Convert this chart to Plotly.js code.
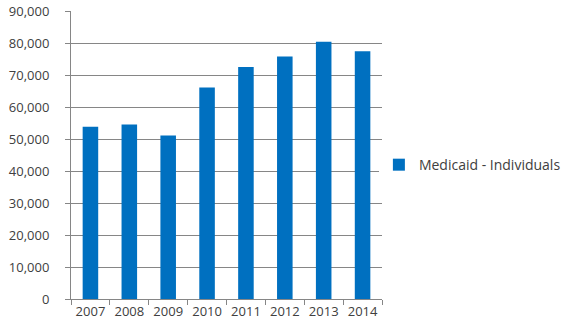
<!DOCTYPE html>
<html>
<head>
<meta charset="utf-8">
<script src="https://cdn.plot.ly/plotly-3.0.1.min.js"></script>
<style>html,body{margin:0;padding:0;background:#fff;}#chart{width:561px;height:333px;}</style>
</head>
<body>
<div id="chart"></div>
<script>
const years = ["2007","2008","2009","2010","2011","2012","2013","2014"];
const medicaidIndividuals = [53800, 54500, 51100, 66100, 72500, 75800, 80400, 77400];
const seriesName = "Medicaid - Individuals";
const yTicks = [0,10000,20000,30000,40000,50000,60000,70000,80000,90000];

const font = {family: "Open Sans, Noto Sans, sans-serif", size: 13, color: "#404040"};
const legendFont = {family: "Open Sans, Noto Sans, sans-serif", size: 14, color: "#404040"};

Plotly.newPlot("chart", [{
  type: "bar",
  x: years,
  y: medicaidIndividuals,
  name: seriesName,
  marker: {color: "#0070C0"},
  showlegend: true
}], {
  width: 561, height: 333,
  margin: {l: 71, r: 179, t: 11, b: 34, pad: 0, autoexpand: false},
  paper_bgcolor: "#fff", plot_bgcolor: "#fff",
  font: font,
  bargap: 0.6,
  showlegend: true,
  legend: {x: 0.99, xanchor: "left", y: 0.465, yanchor: "middle", font: legendFont, itemwidth: 30},
  xaxis: {
    type: "category",
    showline: true, linecolor: "#868686", linewidth: 1,
    ticks: "outside", tickson: "boundaries", ticklen: 5, tickcolor: "#868686",
    showgrid: false, tickfont: font, tickangle: 0
  },
  yaxis: {
    range: [0, 90000], tickvals: yTicks, tickformat: ",d",
    showline: true, linecolor: "#868686", linewidth: 1,
    ticks: "outside", ticklen: 5, tickcolor: "#868686",
    ticklabelstandoff: 13,
    showgrid: true, gridcolor: "#868686", gridwidth: 1,
    zeroline: false, tickfont: font
  }
}, {displayModeBar: false, staticPlot: true});
</script>
</body>
</html>
